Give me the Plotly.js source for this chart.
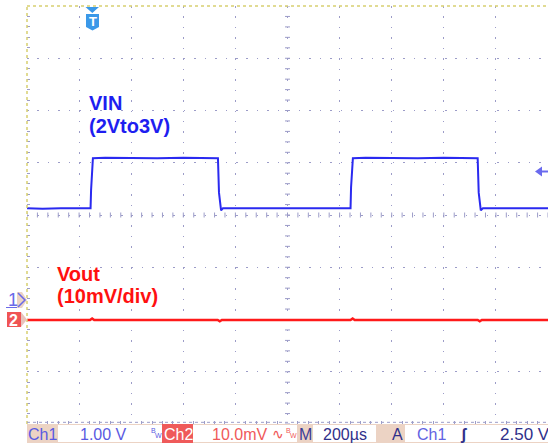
<!DOCTYPE html>
<html>
<head>
<meta charset="utf-8">
<script src="https://cdn.plot.ly/plotly-3.0.1.min.js"></script>
<style>html,body{margin:0;padding:0;background:#fff;overflow:hidden}#chart{width:548px;height:446px}</style>
</head>
<body>
<div id="chart"></div>
<script>
// ---- data (time in microseconds, 200 us/div) ----
const vinTime = [0, 60, 130, 200, 244, 246, 249, 253, 300, 400, 500, 600, 700, 733, 737, 741, 745, 752, 800, 900, 1000, 1100, 1200, 1242, 1244, 1247, 1251, 1300, 1400, 1500, 1600, 1700, 1730, 1734, 1738, 1742, 1750, 1850, 1950, 2000];
const vinVolts = [2.00, 1.99, 2.00, 2.00, 2.00, 2.35, 2.62, 2.96, 2.97, 2.96, 2.96, 2.97, 2.96, 2.96, 2.30, 2.05, 1.96, 2.00, 2.00, 2.00, 1.99, 2.00, 2.00, 2.00, 2.40, 2.70, 2.96, 2.97, 2.96, 2.96, 2.97, 2.96, 2.96, 2.30, 2.05, 1.96, 2.00, 2.00, 1.99, 2.00];
const voutTime = [0, 242, 250, 258, 732, 740, 748, 1242, 1250, 1258, 1730, 1738, 1746, 2000];
const voutMilliVolts = [-0.1, -0.1, 0.2, -0.1, -0.1, -0.35, -0.1, -0.1, 0.2, -0.1, -0.1, -0.35, -0.1, -0.1];
const ch1VoltsPerDiv = 1.0, ch1Position = -1.872;   // divisions
const ch2MilliVoltsPerDiv = 10.0, ch2Position = -2.0;
const timePerDiv = 200;
const statusTexts = ["Ch1", "1.00 V", "Ch2", "10.0mV", "M", "200µs", "A", "Ch1", "2.50 V"];

// ---- geometry helpers (pixel -> paper) ----
const L = 27, R = 548, T = 6, B = 424;
const xp = px => (px - L) / (R - L);
const yp = py => (B - py) / (B - T);
const pathP = pts => pts.map((p, i) => (i ? 'L' : 'M') + xp(p[0]).toFixed(5) + ',' + yp(p[1]).toFixed(5)).join(' ') + ' Z';

const vinDiv = vinVolts.map(v => v / ch1VoltsPerDiv + ch1Position);
const voutDiv = voutMilliVolts.map(v => v / ch2MilliVoltsPerDiv + ch2Position);

const traces = [
  {x: vinTime, y: vinDiv, mode: 'lines', line: {color: '#2a2af0', width: 2}, hoverinfo: 'skip'},
  {x: voutTime, y: voutDiv, mode: 'lines', line: {color: '#ff1a1a', width: 2.5}, hoverinfo: 'skip'}
];

const gridColor = '#9c9cc8';
const shapes = [];
// center-line tick marks
const dxPx = timePerDiv / 52.1;
for (let k = 0; k <= 40; k++) {
  const y = -4 + k * 0.2;
  shapes.push({type: 'line', xref: 'x', yref: 'y', x0: 1000 - 2.5 * dxPx, x1: 1000 + 2.5 * dxPx, y0: y, y1: y, line: {color: gridColor, width: 1}, layer: 'below'});
}
for (let k = 0; k <= 50; k++) {
  const x = k * 40;
  shapes.push({type: 'line', xref: 'x', yref: 'y', x0: x, x1: x, y0: -2.5 / 52.25, y1: 2.5 / 52.25, line: {color: gridColor, width: 1}, layer: 'below'});
}
// borders
shapes.push({type: 'line', xref: 'paper', yref: 'paper', x0: 0, x1: 1, y0: 1, y1: 1, line: {color: '#d8d070', width: 1.5, dash: 'dot'}});
shapes.push({type: 'line', xref: 'paper', yref: 'paper', x0: 0, x1: 0, y0: 0, y1: 1, line: {color: '#d8d070', width: 1.5, dash: 'dot'}});
shapes.push({type: 'line', xref: 'paper', yref: 'paper', x0: 0, x1: 1, y0: 0.004, y1: 0.004, line: {color: gridColor, width: 1, dash: 'dot'}});
// status bar
const sb = (x0, x1, y0, y1, c) => ({type: 'rect', xref: 'paper', yref: 'paper', x0: xp(x0), x1: xp(x1), y0: yp(y1), y1: yp(y0), fillcolor: c, line: {width: 0}});
shapes.push(sb(27, 548, 424, 443, '#ecd3c4'));
shapes.push(sb(58, 162, 425, 442, '#ffffff'));
shapes.push(sb(162, 193, 424, 443, '#ef5a5a'));
shapes.push(sb(193, 297, 425, 442, '#ffffff'));
shapes.push(sb(313, 376, 425, 442, '#ffffff'));
shapes.push(sb(405, 548, 425, 442, '#ffffff'));
// channel markers
shapes.push({type: 'path', xref: 'paper', yref: 'paper', path: pathP([[17, 292], [22, 292], [27, 300], [22, 308], [17, 308]]), fillcolor: '#ecd3c4', line: {width: 0}});
shapes.push({type: 'path', xref: 'paper', yref: 'paper', path: 'M' + xp(18) + ',' + yp(293) + ' L' + xp(25) + ',' + yp(300) + ' L' + xp(18) + ',' + yp(307), line: {color: '#6a6ae8', width: 1.5}});
shapes.push({type: 'line', xref: 'paper', yref: 'paper', x0: xp(6), x1: xp(17), y0: yp(307.5), y1: yp(307.5), line: {color: '#6a6ae8', width: 1}});
shapes.push(sb(7, 21, 312, 327, '#f05454'));
shapes.push({type: 'path', xref: 'paper', yref: 'paper', path: pathP([[21, 312], [27, 319.5], [21, 327]]), fillcolor: '#e8c4bc', line: {width: 0}});
// trigger position marker
shapes.push({type: 'path', xref: 'paper', yref: 'paper', path: pathP([[85.5, 7], [99, 7], [92.3, 13]]), fillcolor: '#3a98e8', line: {width: 0}});
shapes.push({type: 'path', xref: 'paper', yref: 'paper', path: pathP([[86, 14], [99, 14], [99, 27], [92.5, 30.5], [86, 27]]), fillcolor: '#3a98e8', line: {width: 0}});
// trigger level arrow
shapes.push({type: 'path', xref: 'paper', yref: 'paper', path: pathP([[535, 171.5], [542, 166.5], [542, 176.5]]), fillcolor: '#6a6aee', line: {width: 0}});
shapes.push({type: 'line', xref: 'paper', yref: 'paper', x0: xp(541), x1: xp(548), y0: yp(171.5), y1: yp(171.5), line: {color: '#6a6aee', width: 2}});

const F = 'Liberation Sans, Arial, sans-serif';
const ann = (text, px, py, color, size, opts) => Object.assign({
  text, xref: 'paper', yref: 'paper', x: xp(px), y: yp(py), xanchor: 'left', yanchor: 'middle',
  showarrow: false, font: {family: F, size, color}, borderpad: 0
}, opts || {});
const annotations = [
  ann('<b>VIN</b>', 88, 103, '#1e1ef0', 20),
  ann('<b>(2Vto3V)</b>', 88, 125.6, '#1e1ef0', 20),
  ann('<b>Vout</b>', 56, 273.5, '#ff1010', 20),
  ann('<b>(10mV/div)</b>', 56, 296.1, '#ff1010', 20),
  ann(statusTexts[0], 27, 434, '#5a5ae2', 16),
  ann(statusTexts[1], 79, 434, '#5a5ae2', 16),
  ann('B', 150, 430, '#5a5ae2', 7),
  ann('W', 154, 436, '#5a5ae2', 7),
  ann(statusTexts[2], 163, 434, '#ffffff', 16),
  ann(statusTexts[3], 211, 434, '#f05a5a', 16),
  ann('∿', 271, 434, '#f05a5a', 14),
  ann('B', 285, 430, '#f05a5a', 7),
  ann('W', 289, 436, '#f05a5a', 7),
  ann(statusTexts[4], 298, 434, '#3c3c96', 16),
  ann(statusTexts[5], 322, 434, '#30308a', 16),
  ann(statusTexts[6], 391, 434, '#30308a', 16),
  ann(statusTexts[7], 416, 434, '#6262e2', 16),
  ann('<b>ʃ</b>', 459, 434, '#30308a', 16),
  ann(statusTexts[8], 499, 434, '#30308a', 17),
  ann('1', 7, 299.5, '#6a6ae8', 18),
  ann('<b>2</b>', 8, 320, '#ffffff', 16),
  ann('<b>T</b>', 87.5, 21, '#ffffff', 13)
];

const axisCommon = {
  showline: false, zeroline: false, showticklabels: false, ticks: '', fixedrange: true,
  showgrid: true, gridcolor: gridColor, gridwidth: 1, griddash: '1.5px,8.95px'
};
const layout = {
  width: 548, height: 446,
  margin: {l: 27, r: 0, t: 6, b: 22, pad: 0},
  paper_bgcolor: '#ffffff', plot_bgcolor: '#ffffff',
  showlegend: false,
  xaxis: Object.assign({}, axisCommon, {range: [0, 2000], dtick: 200, tick0: 0,
    minor: {dtick: 40, tick0: 0, ticks: 'inside', ticklen: 3, tickcolor: gridColor, tickwidth: 1, showgrid: false}, mirror: 'allticks'}),
  yaxis: Object.assign({}, axisCommon, {range: [-4, 4], dtick: 1, tick0: 0,
    minor: {dtick: 0.2, tick0: 0, ticks: 'inside', ticklen: 3, tickcolor: gridColor, tickwidth: 1, showgrid: false}, mirror: 'allticks'}),
  shapes, annotations
};
Plotly.newPlot('chart', traces, layout, {displayModeBar: false, staticPlot: true});
</script>
</body>
</html>
